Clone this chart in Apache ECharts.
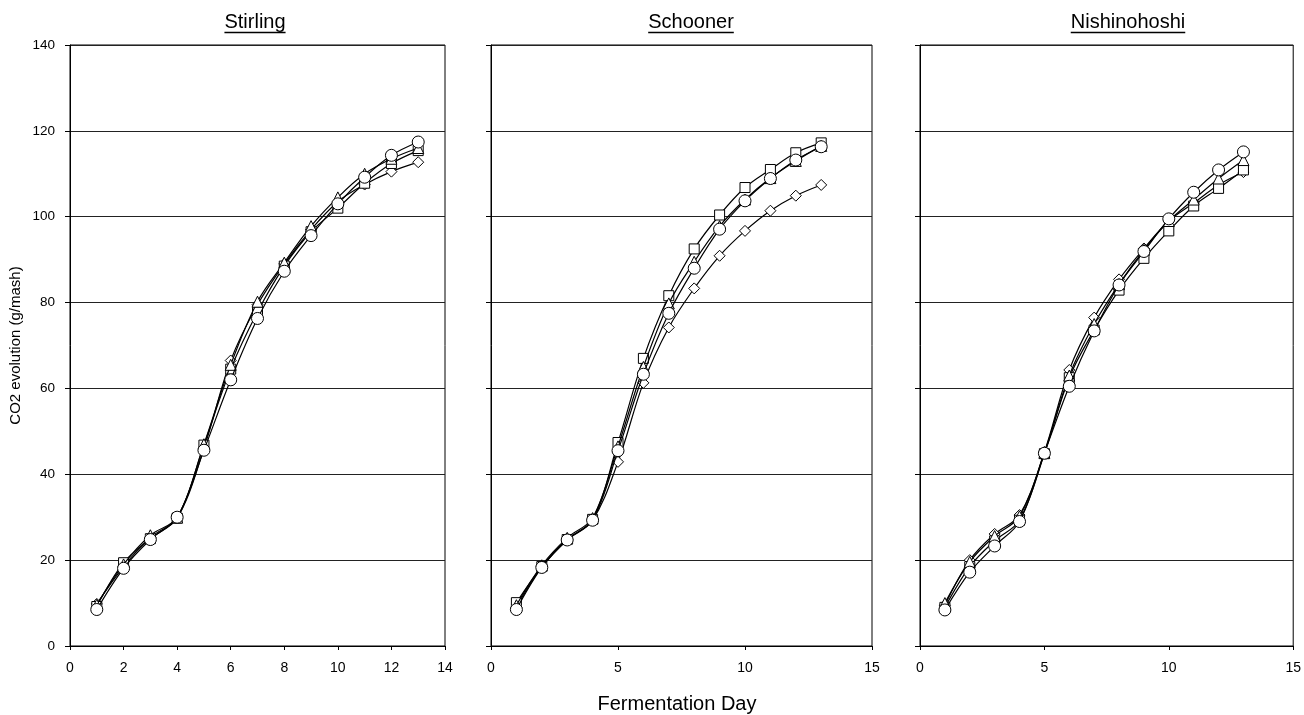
<!DOCTYPE html>
<html>
<head>
<meta charset="utf-8">
<script src="https://cdn.jsdelivr.net/npm/echarts@6/dist/echarts.min.js"></script>
<style>
html,body{margin:0;padding:0;background:#fff;}
#chart{width:1304px;height:715px;}
</style>
</head>
<body>
<div id="chart"></div>
<script>
// ---- data ----
const days = [1, 2, 3, 4, 5, 6, 7, 8, 9, 10, 11, 12, 13];
const panelTitles = ['Stirling', 'Schooner', 'Nishinohoshi'];
const yTicks = [0, 20, 40, 60, 80, 100, 120, 140];

const stirlingDiamond  = [9.8, 18.5, 25.3, 29.8, 46.0, 66.5, 79.5, 89.0, 97.0, 103.5, 107.5, 110.5, 112.7];
const stirlingSquare   = [9.2, 19.4, 25.0, 29.8, 46.8, 64.5, 77.8, 88.5, 96.5, 102.0, 107.8, 112.4, 115.4];
const stirlingTriangle = [9.6, 19.0, 25.8, 29.9, 47.0, 65.5, 80.2, 89.3, 97.8, 104.5, 110.0, 113.5, 116.0];
const stirlingCircle   = [8.5, 18.1, 24.8, 30.0, 45.6, 62.0, 76.3, 87.3, 95.6, 103.0, 109.2, 114.3, 117.4];

const schoonerDiamond  = [9.0, 18.5, 24.8, 29.3, 42.9, 61.3, 74.2, 83.3, 90.9, 96.7, 101.4, 104.9, 107.4];
const schoonerSquare   = [10.1, 18.5, 24.8, 29.5, 47.4, 67.0, 81.6, 92.5, 100.4, 106.8, 111.0, 114.9, 117.2];
const schoonerTriangle = [9.5, 18.8, 25.2, 29.8, 46.5, 65.0, 79.8, 89.5, 97.8, 104.0, 109.0, 113.0, 116.5];
const schoonerCircle   = [8.5, 18.3, 24.7, 29.3, 45.5, 63.3, 77.5, 88.0, 97.1, 103.7, 108.9, 113.2, 116.3];

const nishiDiamond  = [9.5, 20.0, 26.1, 30.5, 45.2, 64.3, 76.5, 85.4, 92.6, 99.0, 103.2, 107.4, 110.4];
const nishiSquare   = [9.0, 18.5, 24.5, 29.3, 44.8, 62.5, 73.6, 82.9, 90.3, 96.7, 102.5, 106.6, 110.9];
const nishiTriangle = [10.0, 19.6, 25.6, 30.2, 45.0, 63.0, 75.0, 84.3, 92.3, 99.0, 104.0, 108.9, 113.2];
const nishiCircle   = [8.4, 17.2, 23.3, 29.0, 44.9, 60.5, 73.4, 84.1, 91.9, 99.5, 105.7, 110.9, 115.1];

const panelData = [
  [stirlingDiamond, stirlingSquare, stirlingTriangle, stirlingCircle],
  [schoonerDiamond, schoonerSquare, schoonerTriangle, schoonerCircle],
  [nishiDiamond, nishiSquare, nishiTriangle, nishiCircle]
];
const xMax = [14, 15, 15];
const xInterval = [2, 5, 5];

// ---- layout / style ----
const FONT = "'Liberation Sans', Arial, sans-serif";
const grids = [
  {left: 70, top: 45, width: 375, height: 601},
  {left: 491, top: 45, width: 381, height: 601},
  {left: 920, top: 45, width: 377, height: 601}
];
const titleX = [255, 691, 1128];
const symbols = [
  {symbol: 'diamond', size: 11},
  {symbol: 'rect', size: 10},
  {symbol: 'triangle', size: 11},
  {symbol: 'circle', size: 12}
];

const chart = echarts.init(document.getElementById('chart'), null, {renderer: 'canvas'});

const gridOpts = grids.map(g => Object.assign({show: true, borderColor: '#000', borderWidth: 1, backgroundColor: 'transparent'}, g));

const xAxes = grids.map((g, i) => ({
  type: 'value', gridIndex: i, min: 0, max: xMax[i], interval: xInterval[i],
  axisLine: {show: true, onZero: false, lineStyle: {color: '#000', width: 1}},
  axisTick: {show: true, length: 4, lineStyle: {color: '#000'}},
  axisLabel: {color: '#000', fontSize: 14, fontFamily: FONT, margin: 15},
  splitLine: {show: false}
}));

const yAxes = grids.map((g, i) => ({
  type: 'value', gridIndex: i, min: 0, max: 140, interval: 20,
  axisLine: {show: true, lineStyle: {color: '#000', width: 1}},
  axisTick: {show: true, length: 5, lineStyle: {color: '#000'}},
  axisLabel: {show: i === 0, color: '#000', fontSize: 13.5, fontFamily: FONT, margin: 15,
    formatter: v => yTicks.includes(v) ? String(v) : ''},
  splitLine: {show: true, lineStyle: {color: '#222', width: 1.2}},
  name: i === 0 ? 'CO2 evolution (g/mash)' : '',
  nameLocation: 'middle', nameGap: 47, nameRotate: 90,
  nameTextStyle: {color: '#000', fontSize: 15, fontFamily: FONT}
}));

const series = [];
panelData.forEach((arrs, p) => {
  arrs.forEach((vals, s) => {
    series.push({
      type: 'line', xAxisIndex: p, yAxisIndex: p,
      data: days.map((d, k) => [d, vals[k]]),
      smooth: 0.35,
      symbol: symbols[s].symbol, symbolSize: symbols[s].size,
      showSymbol: true,
      lineStyle: {color: '#000', width: 1.2},
      itemStyle: {color: '#fff', borderColor: '#000', borderWidth: 1},
      z: 2 + s,
      animation: false
    });
  });
});

// measure title widths for underline
const mctx = document.createElement('canvas').getContext('2d');
const titleFontSize = 20;
mctx.font = titleFontSize + "px 'Liberation Sans', Arial, sans-serif";
const graphics = [];
panelTitles.forEach((t, i) => {
  const w = mctx.measureText(t).width;
  graphics.push({
    type: 'text', left: titleX[i] - w / 2, top: 12,
    style: {text: t, fill: '#000', font: titleFontSize + "px " + FONT}
  });
  graphics.push({
    type: 'line',
    shape: {x1: titleX[i] - w / 2, y1: 32.5, x2: titleX[i] + w / 2, y2: 32.5},
    style: {stroke: '#000', lineWidth: 1.5}
  });
});
const xName = 'Fermentation Day';
mctx.font = "20px 'Liberation Sans', Arial, sans-serif";
const xnw = mctx.measureText(xName).width;
graphics.push({
  type: 'text', left: 677 - xnw / 2, top: 694,
  style: {text: xName, fill: '#000', font: "20px " + FONT}
});

chart.setOption({
  animation: false,
  backgroundColor: '#fff',
  textStyle: {fontFamily: FONT},
  grid: gridOpts,
  xAxis: xAxes,
  yAxis: yAxes,
  series: series,
  graphic: graphics
});
</script>
</body>
</html>
